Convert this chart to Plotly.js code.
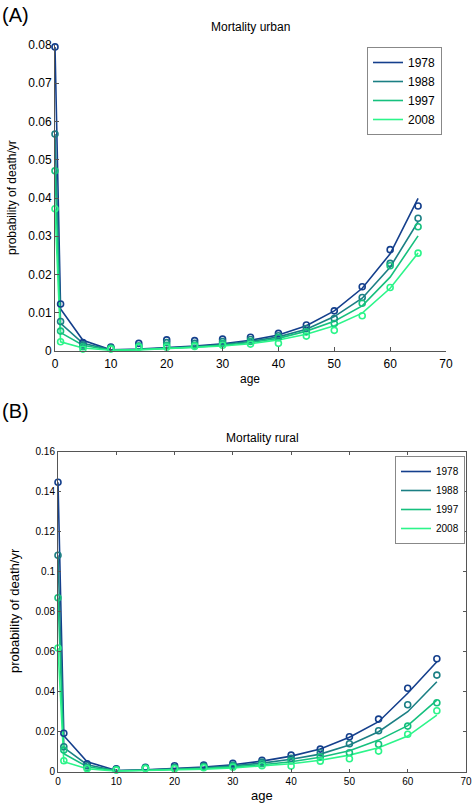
<!DOCTYPE html>
<html>
<head>
<meta charset="utf-8">
<script src="https://cdn.plot.ly/plotly-3.0.1.min.js"></script>
<style>html,body{margin:0;padding:0;background:#fff;}#chart{width:472px;height:805px;}</style>
</head>
<body>
<div id="chart"></div>
<script>
// ---------- data ----------
const ages = [0, 1, 5, 10, 15, 20, 25, 30, 35, 40, 45, 50, 55, 60, 65];
const years = ["1978", "1988", "1997", "2008"];
const colors = ["#143f8c", "#1b7f84", "#16c07e", "#2cf58a"];

// Urban: observed (markers)
const urbanObs1978 = [0.0795, 0.0123, 0.0022, 0.0010, 0.0020, 0.0029, 0.0027, 0.0031, 0.0036, 0.0046, 0.0068, 0.0105, 0.0168, 0.0265, 0.0379];
const urbanObs1988 = [0.0567, 0.0077, 0.0016, 0.0008, 0.0013, 0.0022, 0.0020, 0.0025, 0.0030, 0.0040, 0.0059, 0.0085, 0.0140, 0.0229, 0.0347];
const urbanObs1997 = [0.0471, 0.0052, 0.0011, 0.0007, 0.0012, 0.0015, 0.0015, 0.0020, 0.0025, 0.0035, 0.0050, 0.0072, 0.0125, 0.0223, 0.0325];
const urbanObs2008 = [0.0372, 0.0024, 0.0005, 0.0005, 0.0010, 0.0010, 0.0012, 0.0015, 0.0018, 0.0020, 0.0039, 0.0054, 0.0092, 0.0166, 0.0256];
// Urban: fitted (lines)
const urbanFit1978 = [0.0795, 0.0110, 0.0028, 0.0003, 0.0005, 0.0009, 0.0013, 0.0019, 0.0028, 0.0042, 0.0066, 0.0105, 0.0164, 0.0254, 0.0399];
const urbanFit1988 = [0.0567, 0.0072, 0.0020, 0.0003, 0.0004, 0.0008, 0.0011, 0.0017, 0.0025, 0.0037, 0.0057, 0.0090, 0.0138, 0.0219, 0.0338];
const urbanFit1997 = [0.0471, 0.0048, 0.0015, 0.0002, 0.0004, 0.0007, 0.0010, 0.0015, 0.0022, 0.0033, 0.0052, 0.0078, 0.0118, 0.0193, 0.0301];
const urbanFit2008 = [0.0372, 0.0024, 0.0008, 0.0002, 0.0003, 0.0006, 0.0009, 0.0013, 0.0019, 0.0029, 0.0044, 0.0066, 0.0099, 0.0164, 0.0256];

// Rural: observed (markers)
const ruralObs1978 = [0.1447, 0.0192, 0.0040, 0.0015, 0.0022, 0.0030, 0.0033, 0.0042, 0.0057, 0.0083, 0.0113, 0.0175, 0.0263, 0.0417, 0.0565];
const ruralObs1988 = [0.1082, 0.0125, 0.0030, 0.0012, 0.0020, 0.0022, 0.0028, 0.0033, 0.0048, 0.0067, 0.0095, 0.0140, 0.0205, 0.0335, 0.0483];
const ruralObs1997 = [0.0870, 0.0108, 0.0020, 0.0010, 0.0018, 0.0018, 0.0024, 0.0028, 0.0040, 0.0055, 0.0075, 0.0095, 0.0137, 0.0228, 0.0345];
const ruralObs2008 = [0.0618, 0.0055, 0.0015, 0.0008, 0.0016, 0.0015, 0.0020, 0.0022, 0.0030, 0.0028, 0.0053, 0.0065, 0.0103, 0.0187, 0.0305];
// Rural: fitted (lines)
const ruralFit1978 = [0.1447, 0.0180, 0.0050, 0.0006, 0.0010, 0.0015, 0.0023, 0.0035, 0.0053, 0.0078, 0.0113, 0.0172, 0.0250, 0.0392, 0.0550];
const ruralFit1988 = [0.1082, 0.0120, 0.0035, 0.0005, 0.0008, 0.0013, 0.0020, 0.0029, 0.0043, 0.0062, 0.0088, 0.0133, 0.0200, 0.0300, 0.0450];
const ruralFit1997 = [0.0870, 0.0090, 0.0025, 0.0004, 0.0007, 0.0011, 0.0016, 0.0024, 0.0035, 0.0050, 0.0072, 0.0105, 0.0158, 0.0230, 0.0358];
const ruralFit2008 = [0.0618, 0.0050, 0.0015, 0.0003, 0.0006, 0.0009, 0.0013, 0.0019, 0.0028, 0.0040, 0.0057, 0.0083, 0.0120, 0.0178, 0.0283];

const xTicks = [0, 10, 20, 30, 40, 50, 60, 70];
const urbanYTicks = [0, 0.01, 0.02, 0.03, 0.04, 0.05, 0.06, 0.07, 0.08];
const ruralYTicks = [0, 0.02, 0.04, 0.06, 0.08, 0.1, 0.12, 0.14, 0.16];

// ---------- traces ----------
const urbanObs = [urbanObs1978, urbanObs1988, urbanObs1997, urbanObs2008];
const urbanFit = [urbanFit1978, urbanFit1988, urbanFit1997, urbanFit2008];
const ruralObs = [ruralObs1978, ruralObs1988, ruralObs1997, ruralObs2008];
const ruralFit = [ruralFit1978, ruralFit1988, ruralFit1997, ruralFit2008];

const FONT = "Liberation Sans, Arial, sans-serif";
const traces = [];
years.forEach((yr, i) => {
  traces.push({x: ages, y: urbanFit[i], type: "scatter", mode: "lines", name: yr,
    line: {color: colors[i], width: 1.6}, xaxis: "x", yaxis: "y", legend: "legend"});
});
years.forEach((yr, i) => {
  traces.push({x: ages, y: urbanObs[i], type: "scatter", mode: "markers", name: yr, showlegend: false,
    cliponaxis: false,
    marker: {symbol: "circle-open", size: 6, color: colors[i], line: {width: 1.6, color: colors[i]}},
    xaxis: "x", yaxis: "y"});
});
years.forEach((yr, i) => {
  traces.push({x: ages, y: ruralFit[i], type: "scatter", mode: "lines", name: yr,
    line: {color: colors[i], width: 1.6}, xaxis: "x2", yaxis: "y2", legend: "legend2"});
});
years.forEach((yr, i) => {
  traces.push({x: ages, y: ruralObs[i], type: "scatter", mode: "markers", name: yr, showlegend: false,
    cliponaxis: false,
    marker: {symbol: "circle-open", size: 6, color: colors[i], line: {width: 1.6, color: colors[i]}},
    xaxis: "x2", yaxis: "y2"});
});

const W = 472, H = 805;
const axBase = {showgrid: false, zeroline: false, showline: true, linecolor: "#555", linewidth: 1,
  ticks: "inside", ticklen: 4, tickcolor: "#555", automargin: false, fixedrange: true};

const layout = {
  width: W, height: H,
  margin: {l: 0, r: 0, t: 0, b: 0},
  paper_bgcolor: "#fff", plot_bgcolor: "#fff",
  font: {family: FONT, color: "#000"},
  showlegend: true,
  xaxis: Object.assign({}, axBase, {domain: [55 / W, 446 / W], range: [0, 70], tickvals: xTicks,
    tickfont: {size: 12}, anchor: "y", ticklabelstandoff: 2}),
  yaxis: Object.assign({}, axBase, {domain: [1 - 351 / H, 1 - 45 / H], range: [0, 0.08], tickvals: urbanYTicks,
    ticktext: urbanYTicks.map(v => String(v)), tickfont: {size: 12}, anchor: "x"}),
  xaxis2: Object.assign({}, axBase, {domain: [58 / W, 466 / W], range: [0, 70], tickvals: xTicks,
    tickfont: {size: 10}, anchor: "y2", mirror: "ticks", ticklen: 3}),
  yaxis2: Object.assign({}, axBase, {domain: [1 - 771.7 / H, 1 - 451.7 / H], range: [0, 0.16], tickvals: ruralYTicks,
    ticktext: ruralYTicks.map(v => String(v)), tickfont: {size: 10}, anchor: "x2", mirror: "ticks", ticklen: 3}),
  legend: {x: 442 / W, y: 1 - 47 / H, xanchor: "right", yanchor: "top", bgcolor: "#fff",
    bordercolor: "#888", borderwidth: 1, font: {size: 12}, tracegroupgap: 0, itemwidth: 30},
  legend2: {x: 465 / W, y: 1 - 456 / H, xanchor: "right", yanchor: "top", bgcolor: "#fff",
    bordercolor: "#888", borderwidth: 1, font: {size: 10}, tracegroupgap: 0, itemwidth: 30},
  annotations: [
    {text: "(A)", x: 0, y: 1 - 2 / H, xref: "paper", yref: "paper", xanchor: "left", yanchor: "top",
      showarrow: false, font: {size: 20}},
    {text: "(B)", x: 0, y: 1 - 398 / H, xref: "paper", yref: "paper", xanchor: "left", yanchor: "top",
      showarrow: false, font: {size: 20}},
    {text: "Mortality urban", x: 250 / W, y: 1 - 27 / H, xref: "paper", yref: "paper", xanchor: "center", yanchor: "middle",
      showarrow: false, font: {size: 12}},
    {text: "Mortality rural", x: 262 / W, y: 1 - 438 / H, xref: "paper", yref: "paper", xanchor: "center", yanchor: "middle",
      showarrow: false, font: {size: 12}},
    {text: "age", x: 250 / W, y: 1 - 379 / H, xref: "paper", yref: "paper", xanchor: "center", yanchor: "middle",
      showarrow: false, font: {size: 12}},
    {text: "age", x: 262 / W, y: 1 - 795 / H, xref: "paper", yref: "paper", xanchor: "center", yanchor: "middle",
      showarrow: false, font: {size: 13}},
    {text: "probability of death/yr", x: 12 / W, y: 1 - 198 / H, xref: "paper", yref: "paper", xanchor: "center", yanchor: "middle",
      textangle: -90, showarrow: false, font: {size: 12}},
    {text: "probability of death/yr", x: 14 / W, y: 1 - 611 / H, xref: "paper", yref: "paper", xanchor: "center", yanchor: "middle",
      textangle: -90, showarrow: false, font: {size: 13}}
  ]
};

Plotly.newPlot("chart", traces, layout, {displayModeBar: false, staticPlot: true});
</script>
</body>
</html>
